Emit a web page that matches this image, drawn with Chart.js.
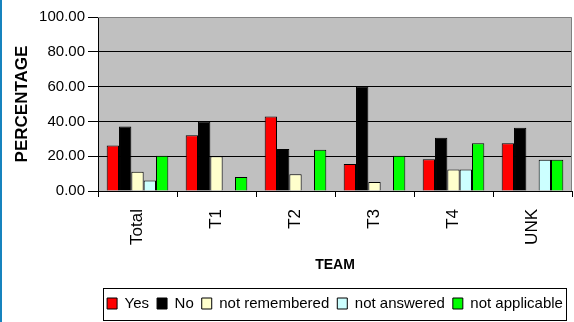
<!DOCTYPE html>
<html lang="en">
<head>
    <meta charset="UTF-8">
    <title>Percentage by team</title>
    <script src="https://cdn.jsdelivr.net/npm/chart.js"></script>
    <style>
        body { margin: 0; background: #fff; }
        #box { position: relative; width: 574px; height: 322px; }
    </style>
</head>
<body>
    <div id="box"><canvas id="grafico"></canvas></div>

<script>
    var equipes = ['Total', 'T1', 'T2', 'T3', 'T4', 'UNK']
    var yTicks = [0, 20, 40, 60, 80, 100]

    var sim = [26.2, 32.0, 42.8, 15.5, 18.2, 27.5]
    var nao = [37.1, 40.0, 24.1, 60.2, 30.6, 36.4]
    var naoLembra = [11.1, 20.0, 9.6, 5.2, 12.3, 0]
    var naoRespondeu = [6.0, 0, 0, 0, 12.3, 18.0]
    var naoAplica = [20.3, 8.0, 23.7, 20.3, 27.5, 18.0]

    var fonte = "'Liberation Sans', Arial, sans-serif"

    // fundo cinza do grafico, borda do plot e faixa azul da esquerda
    var fundo = {
        id: 'fundo',
        beforeDraw(chart) {
            const { ctx, chartArea: a } = chart
            ctx.save()
            ctx.fillStyle = '#c0c0c0'
            ctx.fillRect(a.left, a.top, a.right - a.left, a.bottom - a.top)
            ctx.restore()
        },
        afterDatasetsDraw(chart) {
            const { ctx, chartArea: a } = chart
            ctx.save()
            ctx.strokeStyle = '#808080'
            ctx.lineWidth = 1
            ctx.beginPath()
            ctx.moveTo(a.left, a.top + 0.5)
            ctx.lineTo(a.right - 0.5, a.top + 0.5)
            ctx.lineTo(a.right - 0.5, a.bottom)
            ctx.stroke()
            ctx.restore()
        },
        afterDraw(chart) {
            const ctx = chart.ctx
            const lg = chart.legend
            ctx.save()
            ctx.strokeStyle = '#000'
            ctx.lineWidth = 1
            // moldura da legenda (5px para dentro da area da legenda)
            ctx.strokeRect(lg.left + 5.5, lg.top + 0.5, lg.right - lg.left - 11, lg.bottom - lg.top - 1)
            ctx.fillStyle = '#1783be'
            ctx.fillRect(0, 0, 2, chart.height)
            ctx.restore()
        },
        afterLayout(chart) {
            // legenda centralizada sob o plot
            const lg = chart.legend
            lg.left = 98
            lg.right = 572
            lg.width = lg.right - lg.left
        }
    }

    const dados = {
        labels: equipes,
        datasets: [
            { label: 'Yes', data: sim, backgroundColor: '#ff0000' },
            { label: 'No', data: nao, backgroundColor: '#000000' },
            { label: 'not remembered', data: naoLembra, backgroundColor: '#ffffcc' },
            { label: 'not answered', data: naoRespondeu, backgroundColor: '#ccffff' },
            { label: 'not applicable', data: naoAplica, backgroundColor: '#00ff00' }
        ].map(d => Object.assign(d, {
            borderColor: '#000',
            borderWidth: 1,
            borderSkipped: 'start',
            categoryPercentage: 0.78,
            barPercentage: 1
        }))
    }

    const config = {
        type: 'bar',
        data: dados,
        plugins: [fundo],
        options: {
            responsive: true,
            maintainAspectRatio: false,
            animation: false,
            layout: { padding: { top: 17, right: 2, bottom: 1, left: 0 } },
            plugins: {
                tooltip: { enabled: false },
                legend: {
                    position: 'bottom',
                    labels: {
                        color: '#000',
                        boxWidth: 10,
                        boxHeight: 11,
                        padding: 8,
                        font: { family: fonte, size: 15 }
                    }
                }
            },
            scales: {
                x: {
                    grid: { offset: true, drawOnChartArea: false, tickLength: 6, tickColor: '#000' },
                    border: { color: '#000' },
                    ticks: {
                        color: '#000',
                        minRotation: 90,
                        maxRotation: 90,
                        padding: 12,
                        font: { family: fonte, size: 17 }
                    },
                    title: {
                        display: true,
                        text: 'TEAM',
                        color: '#000',
                        padding: { top: 4, bottom: 14 },
                        font: { family: fonte, size: 14, weight: 'bold' }
                    },
                    afterFit(scale) { scale.height = 97 }
                },
                y: {
                    min: 0,
                    max: 100,
                    afterBuildTicks(scale) { scale.ticks = yTicks.map(v => ({ value: v })) },
                    grid: {
                        color: ctx => ctx.tick && ctx.tick.value === 100 ? 'rgba(0,0,0,0)' : '#000',
                        tickColor: '#000',
                        tickLength: 10
                    },
                    border: { color: '#000' },
                    ticks: {
                        color: '#000',
                        padding: 3,
                        font: { family: fonte, size: 15 },
                        callback: v => Number(v).toFixed(2)
                    },
                    title: {
                        display: true,
                        text: 'PERCENTAGE',
                        color: '#000',
                        padding: { top: 12, bottom: 4 },
                        font: { family: fonte, size: 17, weight: 'bold' }
                    },
                    afterFit(scale) { scale.width = 98 }
                }
            }
        }
    }

    const grafico = new Chart(document.getElementById('grafico'), config)
</script>
</body>
</html>
